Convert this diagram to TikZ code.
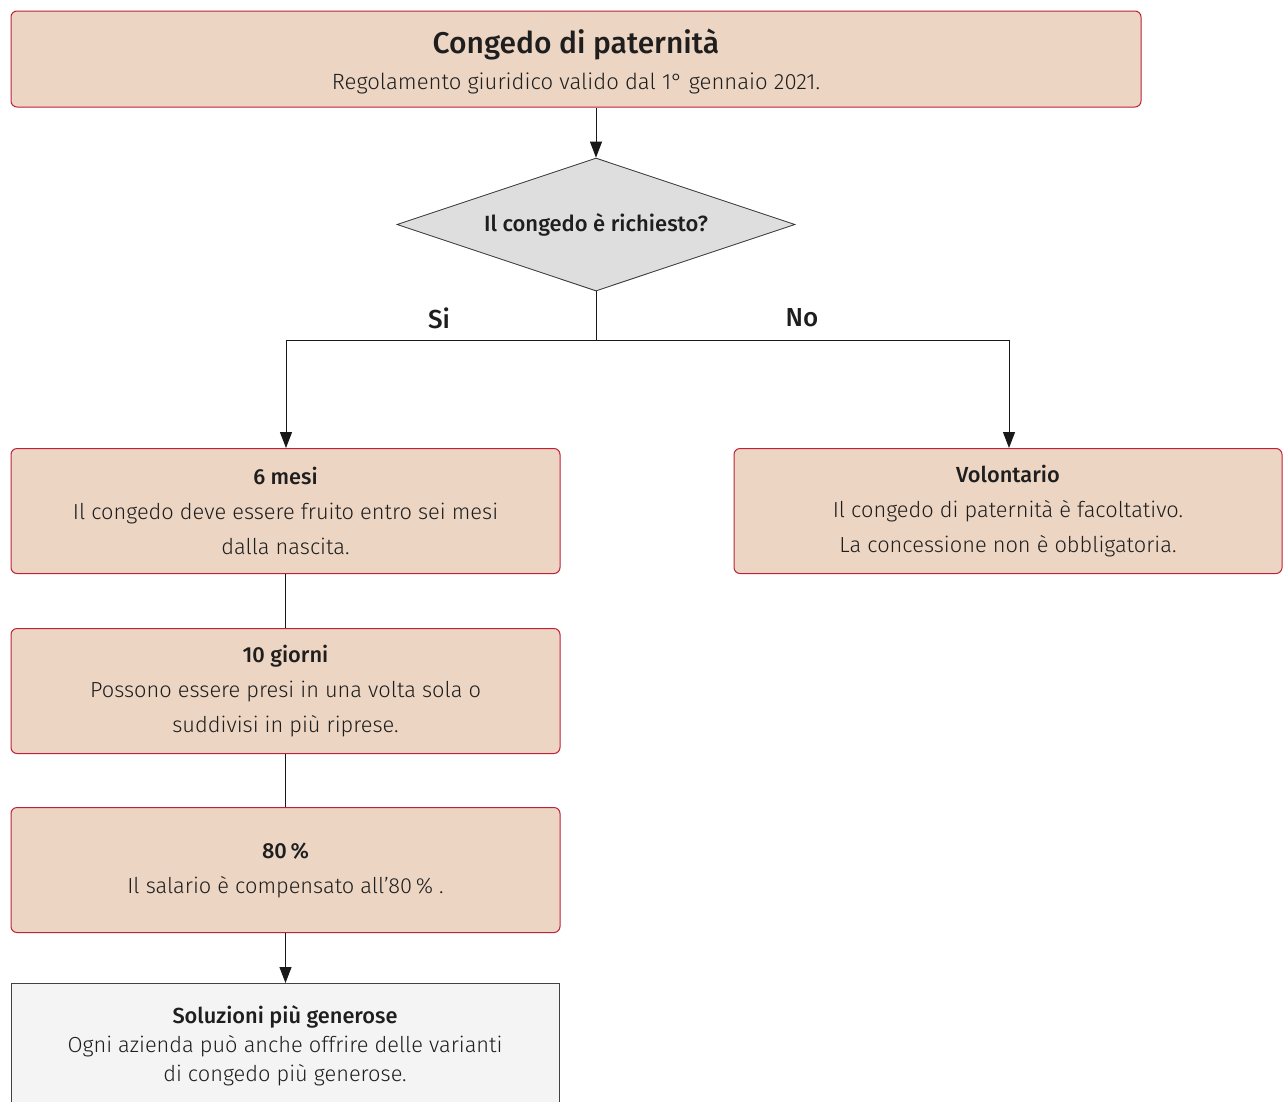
\documentclass[tikz,border=0pt]{standalone}
\usepackage{fontspec}
\setmainfont{Fira Sans Light}[BoldFont={Fira Sans Medium}]
\usetikzlibrary{shapes.geometric,arrows.meta}
\definecolor{boxfill}{HTML}{ECD5C3}
\definecolor{boxline}{HTML}{C0203A}
\definecolor{txt}{HTML}{1E1E1E}
\definecolor{dfill}{HTML}{DEDEDE}
\definecolor{gfill}{HTML}{F4F4F4}
\tikzset{
  infobox/.style={draw=boxline, fill=boxfill, rounded corners=6pt, line width=1pt,
    minimum width=549pt, minimum height=125pt, align=center, text=txt,
    font=\fontsize{21.8}{35}\selectfont, inner sep=0pt},
  endbox/.style={draw=black!75, fill=gfill, line width=1pt,
    minimum width=548pt, minimum height=125pt, align=center, text=txt,
    font=\fontsize{21.8}{29}\selectfont, inner sep=0pt},
  decision/.style={diamond, draw=black!80, fill=dfill, line width=0.8pt, aspect=3,
    minimum width=398pt, minimum height=133pt, inner sep=0pt, text=txt,
    font=\fontsize{22}{24}\selectfont\bfseries},
  conn/.style={draw=black!90, line width=1pt},
  arr/.style={conn, -{Triangle[length=16pt,width=12pt]}},
  lab/.style={text=txt, font=\fontsize{26}{28}\selectfont\bfseries}
}
\begin{document}
\begin{tikzpicture}[x=1pt,y=-1pt]
\useasboundingbox[fill=white] (0,0) rectangle (1288,1101);
\node[infobox, minimum width=1130pt, minimum height=96pt] (title) at (576,59) {};
\node[text=txt, align=center, font=\fontsize{22.1}{36}\selectfont] (titletext) at (576,61)
  {{\fontsize{30}{30}\selectfont\bfseries Congedo di paternità}\\Regolamento giuridico valido dal 1° gennaio 2021.};
\node[decision] (q) at (596,224.5) {Il congedo è richiesto?};
\node[infobox] (mesi) at (285.5,511) {\textbf{6 mesi}\\Il congedo deve essere fruito entro sei mesi\\dalla nascita.};
\node[infobox, minimum width=548pt] (vol) at (1008,511) {\textbf{Volontario}\\Il congedo di paternità è facoltativo.\\La concessione non è obbligatoria.};
\node[infobox] (giorni) at (285.5,691) {\textbf{10 giorni}\\Possono essere presi in una volta sola o\\suddivisi in più riprese.};
\node[infobox] (perc) at (285.5,870) {\textbf{80\,\%}\\Il salario è compensato all’80\,\% .};
\node[endbox] (sol) at (285,1046) {\textbf{Soluzioni più generose}\\Ogni azienda può anche offrire delle varianti\\di congedo più generose.};
\coordinate (split) at (596,340);
\coordinate (sl) at (286,340);
\coordinate (sr) at (1009,340);
\draw[arr] (title.south -| q.north) -- (q.north);
\draw[conn] (q.south) -- (split);
\draw[conn] (sl) -- (sr);
\draw[arr] (sl) -- (sl |- mesi.north);
\draw[arr] (sr) -- (sr |- vol.north);
\draw[conn] (mesi.south) -- (giorni.north);
\draw[conn] (giorni.south) -- (perc.north);
\draw[arr] (perc.south) -- (perc.south |- sol.north);
\node[lab] (si) at (439,318) {Si};
\node[lab] (no) at (802,318) {No};
\end{tikzpicture}
\end{document}
